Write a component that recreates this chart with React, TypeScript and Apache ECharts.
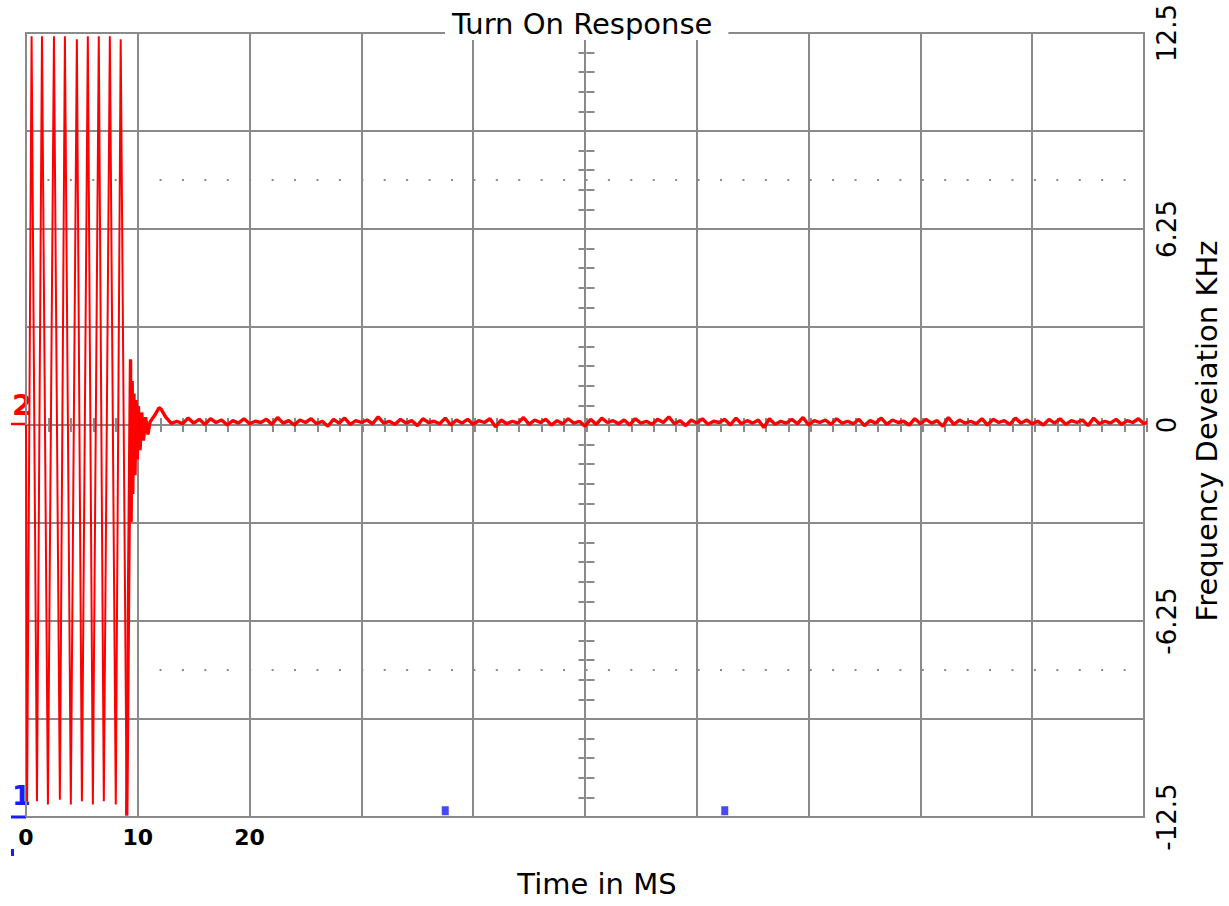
import React, { useEffect, useRef } from "react";
import * as echarts from "echarts";

const FONT = "DejaVu Sans";

const xTickLabels = ["0", "10", "20"];
const yTickLabels = ["-12.5", "-6.25", "0", "6.25", "12.5"];

// 1 kHz oscillation before lock (time ms, deviation kHz)
const oscTimes = [0, 0.1, 0.5, 0.98, 1.43, 1.96, 2.5, 3.03, 3.48, 4.01, 4.55, 5.0, 5.53, 5.98, 6.51, 6.96, 7.5, 8.03, 8.47, 9.01];
const oscValues = [0, -12.0, 12.4, -12.0, 12.4, -12.1, 12.4, -11.95, 12.4, -12.1, 12.3, -12.0, 12.4, -12.1, 12.4, -12.0, 12.4, -12.1, 12.3, -12.45];

// settling transient
const transientTimes = [9.01, 9.35, 9.4, 9.5, 9.55, 9.65, 9.75, 9.85, 9.95, 10.05, 10.2, 10.35, 10.5, 10.7, 10.9, 11.1, 11.5, 11.9, 12.1, 12.5, 13.0];
const transientValues = [-12.45, 2.1, -3.1, 1.4, -2.2, 1.0, -1.6, 0.8, -1.1, 0.6, -0.8, 0.4, -0.5, 0.25, -0.3, 0.1, 0.3, 0.55, 0.5, 0.25, 0.05];

// locked, noisy trace sampled every 0.5 ms from 13.5 ms
const noiseStartMs = 13.5;
const noiseStepMs = 0.5;
const noiseValues = [
  0.12, 0.04, 0.22, 0.06, 0.18, 0.02, 0.2, 0.08, 0.16, 0.0, 0.14, 0.06, 0.2, 0.04, 0.12, 0.08, 0.18, 0.02, 0.24, 0.06,
  0.14, 0.0, 0.16, 0.08, 0.2, 0.04, 0.12, -0.04, 0.18, 0.06, 0.22, 0.02, 0.14, 0.08, 0.16, 0.04, 0.26, 0.06, 0.12, 0.02,
  0.18, 0.06, 0.14, -0.02, 0.2, 0.08, 0.12, 0.04, 0.22, 0.0, 0.16, 0.06, 0.18, 0.02, 0.14, 0.08, 0.2, -0.06, 0.16, 0.04,
  0.12, 0.06, 0.24, 0.02, 0.16, 0.08, 0.18, 0.0, 0.14, 0.04, 0.2, 0.06, 0.12, -0.04, 0.18, 0.02, 0.22, 0.08, 0.14, 0.04,
  0.16, 0.0, 0.2, 0.06, 0.12, 0.02, 0.18, 0.08, 0.26, 0.04, 0.14, -0.02, 0.16, 0.06, 0.2, 0.02, 0.12, 0.08, 0.18, 0.0,
  0.22, 0.04, 0.14, 0.06, 0.16, -0.08, 0.2, 0.02, 0.12, 0.06, 0.18, 0.04, 0.24, 0.0, 0.14, 0.08, 0.16, 0.02, 0.2, 0.06,
  0.12, 0.04, 0.18, -0.02, 0.14, 0.06, 0.22, 0.02, 0.16, 0.08, 0.12, 0.0, 0.2, 0.04, 0.18, 0.06, 0.14, -0.04, 0.24, 0.02,
  0.16, 0.06, 0.12, 0.04, 0.2, 0.0, 0.18, 0.08, 0.14, 0.02, 0.22, 0.06, 0.16, 0.04,
  0.12, 0.0, 0.18, 0.06, 0.2, 0.02, 0.14, 0.08, 0.16, -0.02, 0.22, 0.04, 0.12, 0.06, 0.18, 0.02, 0.14, 0.08, 0.2, 0.04, 0.12, 0.06,
];

const cursorTimes = [37.5, 62.5];
const cursorLevel = -12.3;
const dottedLevels = [7.8125, -7.8125];

const GRAY = "#8a8a8a";

export default function App() {
  const ref = useRef<HTMLDivElement>(null);

  useEffect(() => {
    const chart = echarts.init(ref.current as HTMLDivElement, null, { renderer: "svg" });

    const oscData = oscTimes.map((t, i) => [t, oscValues[i]]);
    const settleData = [
      ...transientTimes.map((t, i) => [t, transientValues[i]]),
      ...noiseValues.map((v, i) => [noiseStartMs + i * noiseStepMs, v]),
    ];

    const gridBox = { left: 26, right: 82, top: 33, bottom: 89 };
    const lineStyle = { color: GRAY, width: 2 };

    const centerX = (gridIndex: number, inside: boolean) => ({
      gridIndex,
      type: "value",
      min: -50,
      max: 50,
      interval: 10,
      axisLine: { show: false, onZero: true, lineStyle },
      axisTick: { show: true, inside, length: 7, lineStyle },
      minorTick: { show: true, splitNumber: 5, length: 7, lineStyle },
      axisLabel: { show: false },
      splitLine: { show: false },
    });
    const centerY = (gridIndex: number, inside: boolean) => ({
      gridIndex,
      type: "value",
      min: -12.5,
      max: 12.5,
      interval: 3.125,
      axisLine: { show: false, onZero: true, lineStyle },
      axisTick: { show: true, inside, length: 8, lineStyle },
      minorTick: { show: true, splitNumber: 5, length: 8, lineStyle },
      axisLabel: { show: false },
      splitLine: { show: false },
    });

    const option: any = {
      animation: false,
      backgroundColor: "#fff",
      title: {
        text: "Turn On Response",
        left: 445,
        top: 6,
        padding: [3, 16, 2, 7],
        backgroundColor: "#fff",
        textStyle: { fontFamily: FONT, fontSize: 29, fontWeight: "normal", color: "#000" },
        z: 10,
      },
      grid: [
        { ...gridBox, show: true, borderColor: GRAY, borderWidth: 2 },
        { ...gridBox },
        { ...gridBox },
      ],
      xAxis: [
        {
          gridIndex: 0,
          type: "value",
          min: 0,
          max: 100,
          interval: 10,
          position: "bottom",
          axisLine: { show: false },
          axisTick: { show: false },
          splitLine: { show: true, lineStyle },
          axisLabel: {
            formatter: (v: number) => (xTickLabels.includes(String(v)) ? String(v) : ""),
            fontFamily: FONT,
            fontSize: 22,
            fontWeight: "bold",
            color: "#000",
            margin: 9,
          },
          name: "Time in MS",
          nameLocation: "middle",
          nameGap: 52,
          nameTextStyle: { fontFamily: FONT, fontSize: 29, color: "#000", padding: [0, 0, 0, 24] },
        },
        centerX(1, true),
        centerX(2, false),
      ],
      yAxis: [
        {
          gridIndex: 0,
          type: "value",
          min: -12.5,
          max: 12.5,
          interval: 3.125,
          position: "right",
          axisLine: { show: false },
          axisTick: { show: false },
          splitLine: { show: true, lineStyle },
          axisLabel: {
            rotate: 90,
            margin: 10,
            formatter: (v: number) => {
              const s = yTickLabels.find((l) => Math.abs(parseFloat(l) - v) < 1e-6);
              return s ?? "";
            },
            fontFamily: FONT,
            fontSize: 26,
            color: "#000",
          },
          name: "Frequency Deveiation KHz",
          nameLocation: "middle",
          nameGap: 48,
          nameTextStyle: { fontFamily: FONT, fontSize: 29, color: "#000", padding: [0, 12, 0, 0] },
        },
        centerY(1, true),
        centerY(2, false),
      ],
      graphic: [
        {
          type: "text",
          x: 12,
          y: 390,
          style: { text: "2", fill: "#ff0000", font: `bold 29px '${FONT}'`, align: "left", verticalAlign: "top" },
        },
        { type: "line", shape: { x1: 11, y1: 424, x2: 26, y2: 424 }, style: { stroke: "#ff0000", lineWidth: 2.5 } },
        {
          type: "text",
          x: 12,
          y: 782,
          style: { text: "1", fill: "#1a1aff", font: `bold 27px '${FONT}'`, align: "left", verticalAlign: "top" },
        },
        { type: "line", shape: { x1: 11, y1: 817, x2: 26, y2: 817 }, style: { stroke: "#1a1aff", lineWidth: 3 } },
        { type: "rect", shape: { x: 11, y: 849, width: 3, height: 7 }, style: { fill: "#1a1aff" } },
      ],
      series: [
        {
          type: "line",
          xAxisIndex: 0,
          yAxisIndex: 0,
          data: oscData,
          showSymbol: false,
          symbol: "none",
          lineStyle: { color: "#ff0000", width: 2 },
          z: 3,
        },
        {
          type: "line",
          xAxisIndex: 0,
          yAxisIndex: 0,
          data: settleData,
          showSymbol: false,
          symbol: "none",
          lineStyle: { color: "#ff0000", width: 3.4 },
          z: 3,
          markLine: {
            silent: true,
            symbol: "none",
            z: 1,
            label: { show: false },
            lineStyle: { color: GRAY, width: 2, type: [2, 20.42], dashOffset: 1 },
            data: dottedLevels.map((v) => ({ yAxis: v })),
          },
        },
        {
          type: "scatter",
          xAxisIndex: 0,
          yAxisIndex: 0,
          data: cursorTimes.map((t) => [t, cursorLevel]),
          symbol: "rect",
          symbolSize: [7, 9],
          itemStyle: { color: "#1a1aff" },
          z: 4,
        },
      ],
    };

    chart.setOption(option);
    return () => chart.dispose();
  }, []);

  return <div ref={ref} style={{ position: "fixed", left: 0, top: 0, width: 1229, height: 906 }} />;
}
